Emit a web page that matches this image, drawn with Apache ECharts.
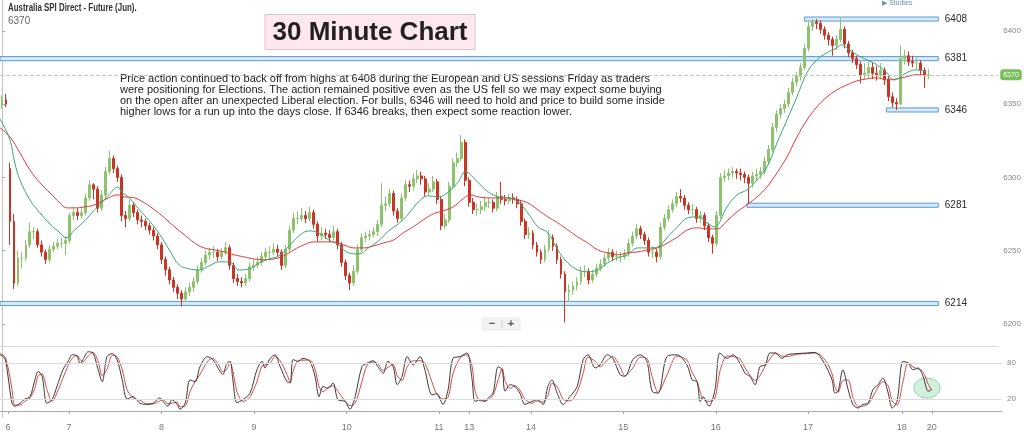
<!DOCTYPE html>
<html><head><meta charset="utf-8">
<script src="https://cdn.jsdelivr.net/npm/echarts/dist/echarts.min.js"></script>
<style>html,body{margin:0;padding:0;background:#fff}#c{width:1024px;height:433px}</style>
</head><body><div id="c"></div>
<script>
// ---- 30-minute candles (open, close, low, high) ----
const opens = [
6349,6353,6306,6270,6228,6245,6245,6254,6263,6263,
6254,6249,6244,6251,6253,6255,6255,6257,6274,6276,
6274,6276,6286,6295,6292,6279,6288,6304,6313,6306,
6300,6274,6272,6281,6276,6271,6270,6267,6264,6260,
6254,6244,6237,6230,6225,6221,6217,6222,6225,6229,
6237,6242,6247,6249,6249,6246,6249,6252,6240,6231,
6229,6228,6231,6239,6240,6242,6246,6249,6249,6251,
6249,6240,6251,6264,6272,6272,6274,6272,6276,6268,
6260,6262,6261,6259,6263,6254,6242,6233,6228,6236,
6251,6259,6260,6261,6263,6268,6281,6282,6289,6277,
6272,6286,6295,6294,6299,6301,6299,6290,6292,6297,
6285,6267,6271,6294,6310,6313,6324,6298,6283,6278,
6278,6280,6283,6283,6279,6287,6285,6284,6286,6285,
6282,6270,6261,6262,6254,6249,6244,6251,6259,6253,
6244,6234,6222,6223,6226,6229,6236,6236,6230,6234,
6238,6241,6245,6249,6246,6246,6246,6248,6255,6260,
6265,6261,6257,6249,6249,6246,6266,6272,6278,6282,
6287,6286,6281,6278,6278,6272,6274,6267,6259,6255,
6274,6300,6301,6303,6304,6303,6302,6300,6296,6301,
6302,6304,6311,6319,6334,6343,6347,6350,6358,6365,
6369,6375,6388,6403,6406,6405,6401,6397,6394,6390,
6394,6401,6391,6385,6381,6377,6370,6371,6375,6371,
6370,6373,6367,6355,6351,6350,6381,6383,6379,6378,
6378,6373,6370];
const closes = [
6353,6350,6270,6228,6245,6245,6254,6263,6263,6254,
6249,6244,6251,6253,6255,6255,6257,6274,6276,6274,
6276,6286,6295,6292,6279,6288,6304,6313,6306,6300,
6274,6272,6281,6276,6271,6270,6267,6264,6260,6254,
6244,6237,6230,6225,6221,6217,6222,6225,6229,6237,
6242,6247,6249,6249,6246,6249,6252,6240,6231,6229,
6228,6231,6239,6240,6242,6246,6249,6249,6251,6249,
6240,6251,6264,6272,6272,6274,6272,6276,6268,6260,
6262,6261,6259,6263,6254,6242,6233,6228,6236,6251,
6259,6260,6261,6263,6268,6281,6282,6289,6277,6272,
6286,6295,6294,6299,6301,6299,6290,6292,6297,6285,
6267,6271,6294,6310,6313,6324,6298,6283,6278,6278,
6280,6283,6283,6279,6287,6285,6284,6286,6285,6282,
6270,6261,6262,6254,6249,6244,6251,6259,6253,6244,
6234,6222,6223,6226,6229,6236,6236,6230,6234,6238,
6241,6245,6249,6246,6246,6246,6248,6255,6260,6265,
6261,6257,6249,6249,6246,6266,6272,6278,6282,6287,
6286,6281,6278,6278,6272,6274,6267,6259,6255,6274,
6300,6301,6303,6304,6303,6302,6300,6296,6301,6302,
6304,6311,6319,6334,6343,6347,6350,6358,6365,6369,
6375,6388,6403,6406,6405,6401,6397,6394,6390,6394,
6401,6391,6385,6381,6377,6370,6371,6375,6371,6370,
6373,6367,6355,6351,6350,6381,6383,6379,6378,6378,
6373,6370,6370];
const lows = [
6347,6348,6254,6224,6226,6238,6243,6252,6258,6252,
6246,6241,6242,6249,6251,6252,6247,6255,6271,6271,
6272,6274,6284,6285,6276,6277,6286,6302,6303,6297,
6270,6266,6270,6273,6268,6266,6264,6261,6257,6251,
6241,6233,6227,6222,6217,6212,6215,6219,6222,6227,
6235,6240,6244,6245,6243,6244,6247,6237,6228,6226,
6225,6226,6229,6236,6238,6240,6244,6245,6247,6246,
6237,6238,6249,6262,6268,6270,6269,6270,6265,6256,
6257,6258,6256,6257,6251,6239,6230,6223,6226,6234,
6249,6256,6257,6259,6260,6266,6277,6280,6274,6269,
6270,6284,6290,6291,6296,6295,6287,6288,6290,6282,
6264,6265,6269,6292,6307,6311,6294,6280,6275,6274,
6275,6277,6279,6276,6277,6282,6281,6282,6282,6279,
6267,6258,6258,6251,6246,6241,6242,6249,6250,6241,
6231,6201,6215,6220,6223,6227,6232,6227,6228,6232,
6236,6239,6243,6243,6243,6242,6244,6246,6253,6258,
6258,6254,6246,6245,6242,6244,6264,6270,6276,6280,
6283,6278,6275,6274,6269,6269,6264,6256,6248,6253,
6272,6297,6298,6300,6299,6298,6296,6282,6293,6298,
6299,6302,6309,6317,6331,6340,6344,6348,6356,6362,
6366,6373,6386,6400,6401,6398,6394,6390,6383,6387,
6392,6388,6382,6378,6374,6364,6367,6368,6367,6366,
6367,6363,6352,6348,6346,6349,6377,6376,6375,6374,
6370,6361,6367];
const highs = [
6356,6357,6310,6275,6250,6249,6257,6269,6266,6265,
6257,6251,6254,6256,6258,6259,6260,6276,6280,6279,
6279,6289,6298,6296,6294,6291,6307,6318,6315,6308,
6302,6277,6285,6283,6278,6274,6272,6269,6266,6262,
6256,6246,6239,6232,6227,6223,6225,6228,6232,6240,
6245,6250,6252,6253,6251,6252,6256,6254,6242,6234,
6232,6234,6242,6244,6246,6249,6252,6253,6255,6254,
6251,6254,6267,6276,6277,6279,6277,6280,6278,6270,
6266,6265,6264,6267,6265,6256,6244,6235,6240,6254,
6262,6263,6264,6266,6271,6296,6287,6292,6291,6279,
6289,6298,6298,6303,6305,6304,6301,6296,6301,6299,
6287,6275,6297,6313,6317,6329,6326,6300,6286,6282,
6284,6287,6286,6285,6290,6297,6288,6289,6289,6287,
6284,6272,6266,6264,6256,6251,6254,6264,6261,6255,
6246,6236,6227,6229,6232,6239,6240,6238,6237,6241,
6244,6248,6252,6251,6250,6249,6251,6258,6263,6268,
6267,6263,6259,6253,6251,6269,6275,6281,6285,6290,
6292,6288,6283,6282,6280,6277,6276,6269,6261,6277,
6303,6305,6306,6307,6306,6306,6304,6302,6304,6306,
6307,6314,6322,6337,6346,6350,6353,6361,6368,6372,
6378,6391,6406,6408,6408,6407,6403,6399,6396,6397,
6409,6403,6393,6387,6383,6379,6378,6379,6378,6376,
6378,6375,6369,6358,6354,6390,6387,6386,6383,6382,
6380,6375,6374];

// ---- moving averages (position in candle units, value) ----
const fastPos = [-0.5,2,3.2,4.5,7,9.5,12,14.5,16,18.2,20.7,23.2,24.5,27,29,30,31.9,34.4,36.9,39.4,41.9,44.4,46.9,49.4,51.9,54.4,56.9,59.4,61.9,64.4,66.9,69.4,71.9,74.4,76.8,79.3,81.8,84.3,86.8,89.3,91.8,94.3,96.8,99.3,101.8,104.3,106.8,109.3,111.8,114.3,116,119.3,121.8,124.3,126.7,129.2,131.7,134.2,136.7,139.2,141.7,144.2,146.7,149.2,151.7,154.2,156.7,159.2,161.7,164.2,166.7,169.2,171.7,174.2,176.6,178.4,181.6,184.1,186.6,189.1,191.6,194.1,196.6,199.1,201.6,204.1,206.6,209.1,210.3,211.6,214.1,216.6,219.1,221.6,223.3,224.8,226.5,229,231.5];
const fastMA = [6339.9,6325.6,6309.9,6298.3,6284.7,6275.8,6268.3,6262.2,6258.8,6264.2,6270.4,6277.9,6281.3,6288.8,6293.5,6290.1,6286,6277.9,6270.4,6261.5,6250.6,6240.3,6237.6,6236.9,6239.7,6242.4,6242.4,6236.9,6237.6,6241.7,6244.4,6246.5,6253.3,6260.1,6263.5,6262.2,6257.4,6254,6248.5,6247.8,6251.9,6256.7,6263.5,6268.3,6275.1,6283.3,6287.4,6286.7,6290.1,6297,6303.8,6296.3,6290.1,6286.7,6286,6283.3,6275.8,6266.3,6262.2,6250.6,6241.7,6236.9,6235.6,6236.9,6241.7,6245.1,6247.2,6251.9,6251.9,6252.6,6259.4,6266.3,6272.4,6273.1,6269,6266.3,6279.9,6288.1,6291.5,6298.3,6307.2,6323.6,6339.2,6355,6371.3,6380.2,6385,6388.4,6390.4,6388.4,6383.6,6380.2,6376.8,6371.3,6366.5,6367.9,6371.3,6373.4,6372];
const slowPos = [-0.5,2,4.5,7,9.5,12,14.5,16.2,18.2,20.7,23.2,25.7,29,30.7,33.2,35.7,38.2,40.7,43.2,45.7,48.2,50.6,53.1,55.6,58.1,60.6,63.1,65.6,68.1,70.6,73.1,75.6,78.1,80.6,83.1,85.6,88.1,90.6,93.1,95.6,98.1,100.5,103,105.5,108,110.5,113,115.5,117.3,119.3,121.8,124.3,126.7,129.2,131.7,134.2,136.7,139.2,141.7,144.2,146.7,149.2,151.7,154.2,156.7,159.2,161.7,164.2,166.7,169.2,171.7,174.2,176.6,179.1,181.6,184.1,186.6,189.1,191.6,194.1,196.6,199.1,201.6,204.1,206.6,209.1,211.6,214.1,216.6,219.1,221.6,224.1,226.5,229,231.5];
const slowMA = [6333.8,6327.6,6316.7,6305.1,6296.3,6289.5,6282.6,6279.2,6279.2,6279.9,6281.3,6284.7,6288.1,6286.7,6286,6282.6,6277.9,6272.4,6266.3,6260.8,6255.3,6251.9,6250.6,6249.2,6247.2,6245.8,6244.4,6243.8,6244.4,6246.5,6250.6,6254,6256,6256,6256,6254,6251.9,6251.9,6253.3,6255.3,6257.4,6262.2,6266.3,6271,6275.1,6277.2,6279.9,6285.4,6288.1,6286.7,6286,6286,6286,6284.7,6282.6,6277.9,6273.1,6269,6264.2,6259.4,6255.3,6250.6,6248.5,6247.2,6248.5,6249.2,6250.6,6251.9,6255.3,6259.4,6264.2,6265.6,6264.9,6264.9,6270.4,6276.5,6281.3,6286.7,6293.5,6303.1,6314,6327.6,6339.2,6348.1,6354.9,6359.7,6363.1,6365.8,6367.2,6367.9,6366.5,6367.2,6368.6,6370,6370];

// ---- stochastic oscillator ----
const stochPos = [-0.5,0.7,1.5,2.5,3.2,4.5,5.7,7,8.2,9,10,11.2,12.5,13.7,15.2,16.5,17.5,18.7,19.5,20.2,21.5,22.7,24,25,26.2,27.5,28.7,30,31.2,32.7,34.4,36.2,37.7,39.4,40.2,41.4,42.4,43.7,44.4,45.7,46.9,48.2,49.4,51.2,52.6,53.9,55.1,56.1,56.9,57.6,58.6,60.1,61.9,63.6,64.9,65.6,66.9,68.1,69.4,71.1,71.9,72.6,73.9,75.1,76.8,78.1,79.1,80.1,81.3,82.6,83.8,85.6,86.8,88.1,89.8,91.1,92.6,93.8,95.1,96.3,97.6,98.6,99.8,101.1,102.6,104.3,105.5,107.3,108.5,110,111.3,112.5,114.3,116,117.3,118,119.3,120.5,121.3,122.5,123.8,124.8,125.5,126.8,128,129.2,130.5,132.2,133.5,135,136.2,137.2,138.5,140,141.7,143.5,145,146.2,148,149.2,151,152.4,154.2,155.4,157.4,159.2,160.9,162.2,163.7,165.9,168.4,170.9,172.2,173.4,174.2,174.9,176.4,177.9,179.1,180.9,182.4,184.1,185.4,186.6,187.9,189.1,190.4,191.6,192.9,194.6,195.9,198.4,200.9,202.8,204.1,205.8,207.1,207.8,208.6,209.8,211.1,212.3,213.6,214.8,216.1,217.3,218.6,219.8,221.1,222.1,223.3,224.8,226.1,227.3,228.6,229.8,231.1,232];
const stochK = [94,88,58,13,8,13,20,24,52,66,58,13,19,41,69,83,94,92,79,86,99,97,69,49,91,96,86,52,20,24,13,11,13,22,16,8,19,11,3,13,52,49,74,91,86,72,61,80,83,52,14,19,30,69,83,72,88,94,74,49,47,86,83,88,83,58,24,41,38,47,19,16,3,24,74,80,84,74,63,83,74,44,58,91,77,91,69,27,29,11,36,88,91,97,52,16,19,16,22,30,74,69,33,44,41,30,11,16,19,11,41,52,30,11,24,41,86,94,72,77,94,88,61,58,86,94,83,33,30,91,94,77,52,49,16,24,8,36,97,88,94,80,63,58,44,74,77,97,97,88,94,96,97,98,91,72,52,30,33,69,36,11,5,11,13,36,44,55,30,5,16,83,80,69,72,58,33,36];
const stochD = [96,91,73,36,10,10,16,22,38,59,62,36,16,30,55,76,88,93,86,82,92,98,83,59,70,93,91,69,36,22,18,12,12,17,19,12,13,15,7,8,32,50,61,82,88,79,66,70,81,67,33,16,24,49,76,77,80,91,84,61,48,66,84,85,85,70,41,32,39,42,33,17,9,13,49,77,82,79,68,73,78,59,51,74,84,84,80,48,28,20,23,62,89,94,74,34,17,17,19,26,52,71,51,38,42,35,20,13,17,15,26,46,41,20,17,32,63,90,83,74,85,91,74,59,72,90,88,58,31,60,92,85,64,50,32,20,16,22,66,92,91,87,72,60,51,59,75,87,97,92,91,95,96,97,94,81,62,41,31,51,52,23,8,8,12,24,40,49,42,17,10,49,81,74,70,65,45,35];

// ---- axes, levels, labels ----
const dayLabels = ['6','7','8','9','10','11','13','14','15','16','17','18','20'];
const dayPos = [1.5,16.7,39.8,62.9,86,109,116.6,132,155,178.1,201.1,224.5,232];
const priceTicks = [6200,6250,6300,6350,6400];
const stochTicks = [20,80];
const levelVals = [6408,6381,6346,6281,6214];
const levelStart = [201,-0.5,221.5,186.6,-0.5];
const levelEnd = 234.5;
const lastPrice = 6370;
const N = 250;

const cats = Array.from({length:N},(_,i)=>String(i));
const candleData = closes.map((c,i)=>[opens[i],c,lows[i],highs[i]]);
const pair = (p,v)=>p.map((x,j)=>[x,v[j]]);

const chart = echarts.init(document.getElementById('c'));
chart.setOption({
  animation:false,
  backgroundColor:'#ffffff',
  grid:[{left:0,right:22,top:0,height:346},{left:0,right:22,top:347,height:70}],
  xAxis:[
    {type:'category',gridIndex:0,data:cats,boundaryGap:true,
     axisLine:{show:true,lineStyle:{color:'#d9d9d9'}},axisTick:{show:false},axisLabel:{show:false},splitLine:{show:false}},
    {type:'value',gridIndex:0,min:-0.5,max:N-0.5,show:false},
    {type:'value',gridIndex:1,min:-0.5,max:N-0.5,
     axisLine:{show:true,lineStyle:{color:'#a8a8a8'}},
     axisTick:{show:true,customValues:dayPos,length:3,lineStyle:{color:'#a8a8a8'}},
     axisLabel:{customValues:dayPos,fontSize:9,color:'#777',margin:6,fontFamily:'Liberation Sans',
       formatter:v=>{const k=dayPos.findIndex(p=>Math.abs(p-v)<1e-6);return k>=0?dayLabels[k]:'';}},
     splitLine:{show:false}}
  ],
  yAxis:[
    {type:'value',gridIndex:0,position:'right',min:6185,max:6421,
     axisLine:{show:true,lineStyle:{color:'#c4c4c4'}},
     axisTick:{show:true,customValues:priceTicks,length:3,lineStyle:{color:'#aaa'}},
     axisLabel:{customValues:priceTicks,fontSize:8,color:'#888',margin:5,fontFamily:'Liberation Sans',formatter:v=>String(v)},
     splitLine:{show:false}},
    {type:'value',gridIndex:1,position:'right',min:-10,max:107,
     axisLine:{show:true,lineStyle:{color:'#c4c4c4'}},
     axisTick:{show:true,customValues:stochTicks,length:3,lineStyle:{color:'#aaa'}},
     axisLabel:{customValues:stochTicks,fontSize:8,color:'#888',margin:5,fontFamily:'Liberation Sans',formatter:v=>String(v)},
     splitLine:{show:false}}
  ],
  series:[
    {type:'line',xAxisIndex:1,yAxisIndex:0,data:[],silent:true,
     markArea:{silent:true,
       itemStyle:{color:'#d5e9f8',borderColor:'#5b9bd5',borderWidth:1},
       label:{show:true,position:'right',distance:6,fontSize:10,color:'#2a2a2a',fontFamily:'Liberation Sans'},
       data:levelVals.map((v,k)=>[{name:String(v),xAxis:levelStart[k],yAxis:v-1.4},{xAxis:levelEnd,yAxis:v+1.4}])}},
    {type:'candlestick',xAxisIndex:0,yAxisIndex:0,data:candleData,barWidth:2.4,
     itemStyle:{color:'#8cc46e',color0:'#cc3322',borderColor:'#8cc46e',borderColor0:'#cc3322',borderWidth:1},
     markLine:{silent:true,symbol:'none',
       lineStyle:{type:'dashed',color:'#c4c4c4',width:1},
       label:{show:true,position:'end',distance:2,formatter:String(lastPrice),backgroundColor:'#79c05a',color:'#fff',fontSize:7,padding:[2,3],borderRadius:3},
       data:[{yAxis:lastPrice}]}},
    {type:'line',xAxisIndex:1,yAxisIndex:0,data:pair(slowPos,slowMA),smooth:0.4,symbol:'none',
     lineStyle:{color:'#e0393b',width:1}},
    {type:'line',xAxisIndex:1,yAxisIndex:0,data:pair(fastPos,fastMA),smooth:0.4,symbol:'none',
     lineStyle:{color:'#36a87a',width:1}},
    {type:'line',xAxisIndex:2,yAxisIndex:1,data:pair(stochPos,stochD),smooth:0.3,symbol:'none',
     lineStyle:{color:'#d9484a',width:1},
     markLine:{silent:true,symbol:'none',label:{show:false},lineStyle:{type:'solid',color:'#dcdcdc',width:1},
       data:stochTicks.map(v=>({yAxis:v}))}},
    {type:'line',xAxisIndex:2,yAxisIndex:1,data:pair(stochPos,stochK),smooth:0.3,symbol:'none',
     lineStyle:{color:'#3a3a3a',width:1}}
  ],
  graphic:[
    {type:'text',x:8,y:3,scaleX:0.79,style:{text:'Australia SPI Direct - Future (Jun).',font:'bold 10px "Liberation Sans"',fill:'#333'}},
    {type:'text',x:8,y:16,style:{text:String(lastPrice),font:'10px "Liberation Sans"',fill:'#666'}},
    {type:'rect',shape:{x:265,y:14.5,width:210,height:35},style:{fill:'#fde8f0',stroke:'#dcc2d0',lineWidth:1}},
    {type:'text',x:370,y:33,style:{text:'30 Minute Chart',font:'bold 26px "Liberation Sans"',fill:'#231f20',textAlign:'center',textVerticalAlign:'middle'}},
    {type:'text',x:120,y:73,style:{text:'Price action continued to back off from highs at 6408 during the European and US sessions Friday as traders\nwere positioning for Elections. The action remained positive even as the US fell so we may expect some buying\non the open after an unexpected Liberal election. For bulls, 6346 will need to hold and price to build some inside\nhigher lows for a run up into the days close. If 6346 breaks, then expect some reaction lower.',
      font:'11px "Liberation Sans"',fill:'#222',lineHeight:11}},
    {type:'text',x:882,y:0,style:{text:'\u25B6 Studies',font:'7px "Liberation Sans"',fill:'#6d8fb8'}},
    {type:'rect',shape:{x:482,y:318,width:38,height:12},style:{fill:'#f2f2f2',stroke:'#ececec'}},
    {type:'text',x:492,y:324,style:{text:'\u2212',font:'bold 11px "Liberation Sans"',fill:'#555',textAlign:'center',textVerticalAlign:'middle'}},
    {type:'line',shape:{x1:502,y1:320,x2:502,y2:328},style:{stroke:'#d0d0d0'}},
    {type:'text',x:511,y:324,style:{text:'+',font:'bold 11px "Liberation Sans"',fill:'#555',textAlign:'center',textVerticalAlign:'middle'}},
    {type:'ellipse',shape:{cx:927,cy:388,rx:13,ry:10},style:{fill:'rgba(140,212,165,0.38)',stroke:'#8fd3a6',lineWidth:1}}
  ]
});
</script></body></html>
